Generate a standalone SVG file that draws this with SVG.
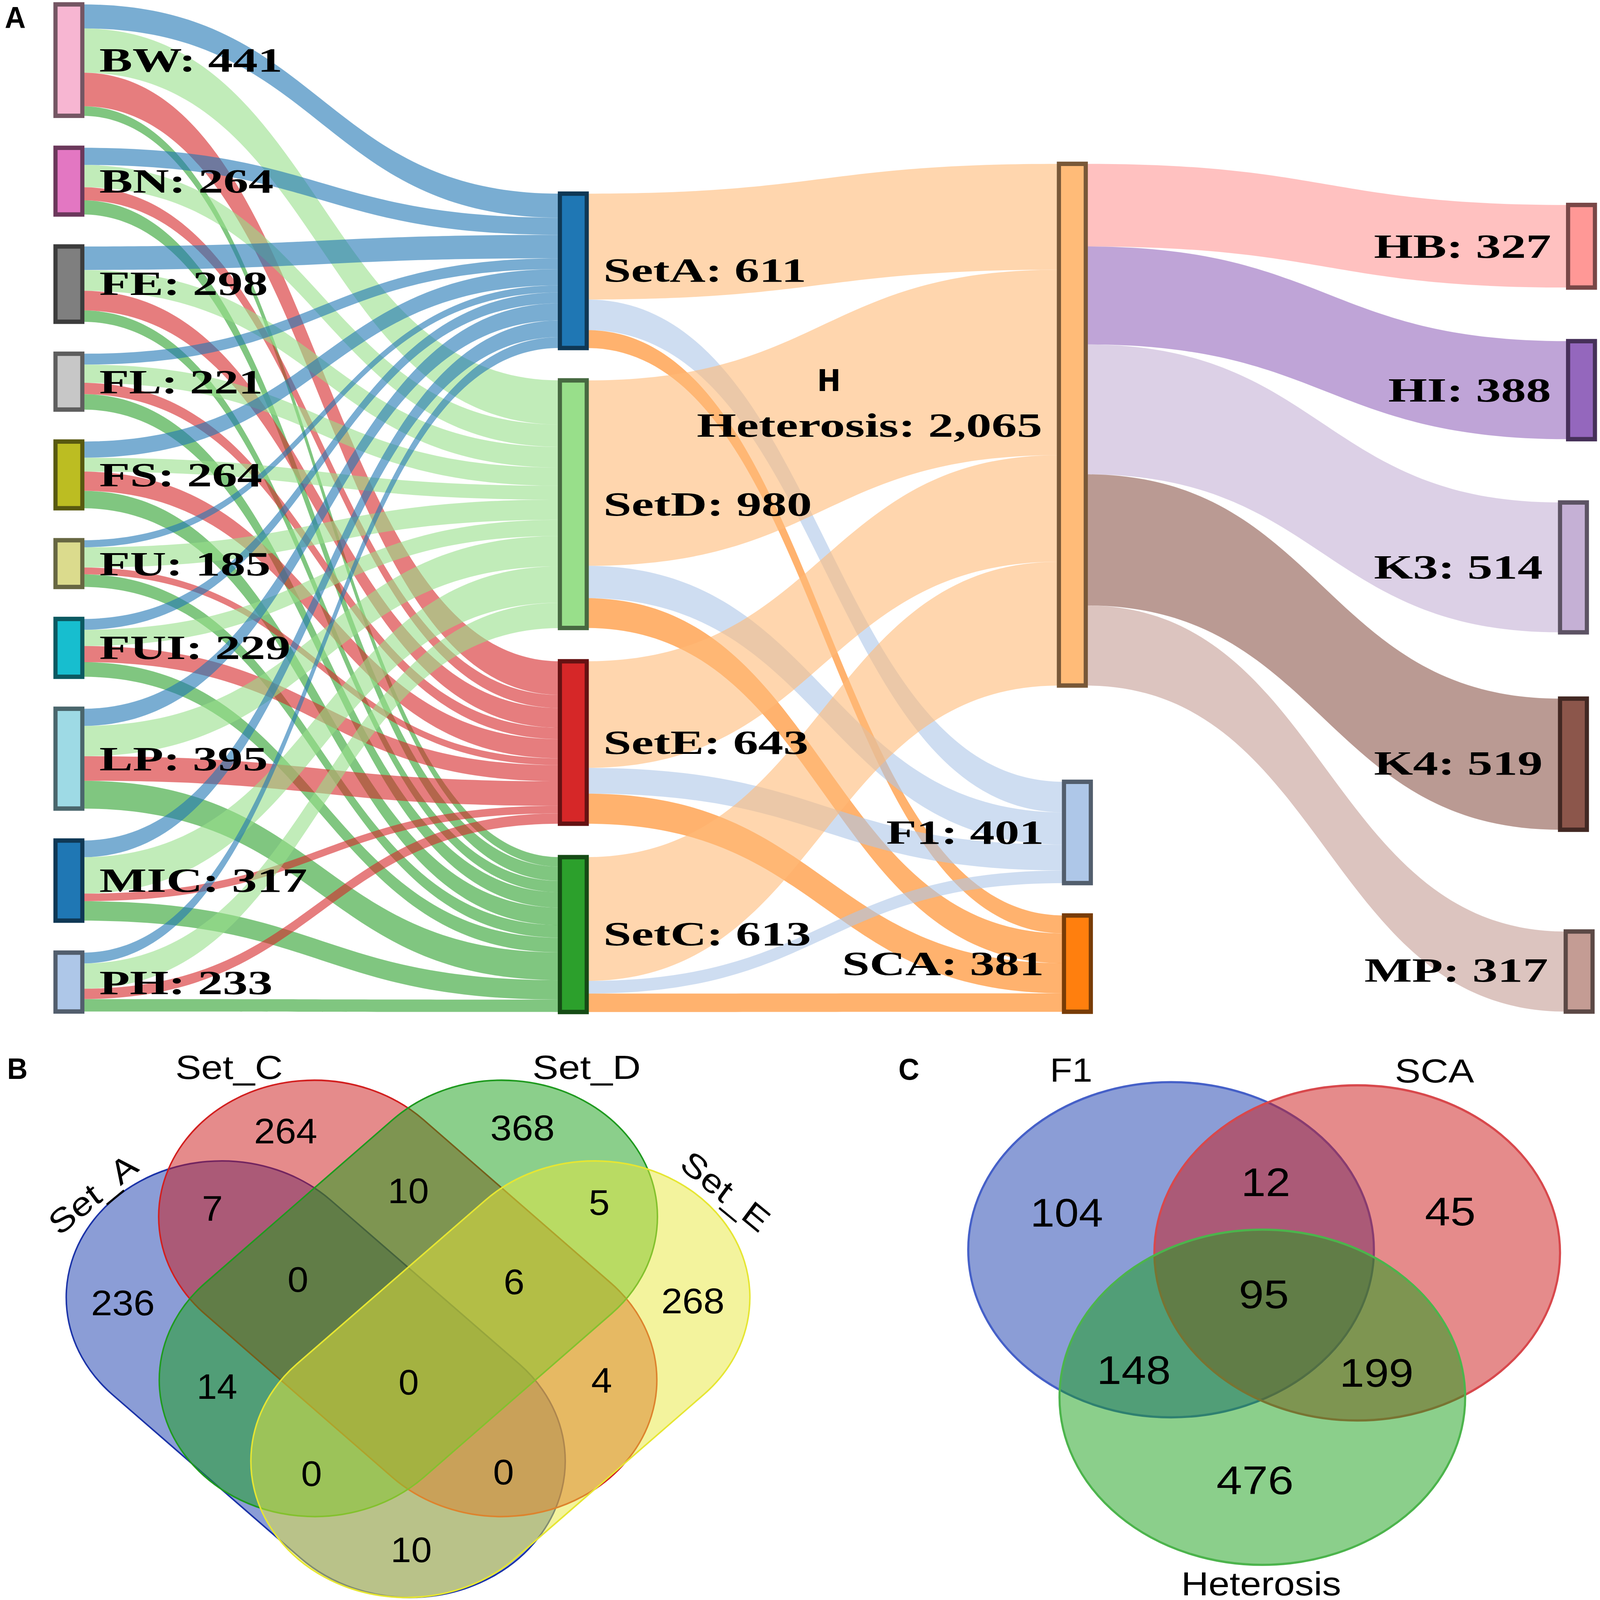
<svg xmlns="http://www.w3.org/2000/svg" width="5364" height="5098" viewBox="0 0 5364 5098" preserveAspectRatio="none">
<style>
svg:root{width:100vw;height:100vh}
.lk{fill-opacity:0.6;stroke:none}
.tA{fill:#1f77b4}.tD{fill:#98df8a}.tE{fill:#d62728}.tC{fill:#2ca02c}
.tH{fill:#ffbb78}.tF{fill:#aec7e8}.tS{fill:#ff7f0e}
.tHB{fill:#ff9896}.tHI{fill:#9467bd}.tK3{fill:#c5b0d5}.tK4{fill:#8c564b}.tMP{fill:#c49c94}
.nd{stroke-width:14}
.nl{font-family:"Liberation Serif","Times New Roman",serif;font-weight:bold;font-size:108px;fill:#000}
.pl{font-family:"Liberation Sans",Arial,sans-serif;font-weight:bold;fill:#000}
.vt{font-family:"Liberation Sans",Arial,sans-serif;fill:#000;text-anchor:middle}
.vb{font-size:112px}
.vc{font-size:128px}
.vs{font-family:"Liberation Sans",Arial,sans-serif;fill:#000;font-size:106px}
.vshape{fill-opacity:0.5;stroke-width:5}
</style>
<rect width="5364" height="5098" fill="#ffffff"/>
<g id="panel-A">
<text class="pl" x="16" y="90" font-size="97">A</text>
<g id="connectors">
<path class="lk tA" d="M276,14 C1076.5,14 1076.5,617 1877,617 L1877,693.5 C1076.5,693.5 1076.5,90.5 276,90.5Z"/>
<path class="lk tD" d="M276,90.5 C1076.5,90.5 1076.5,1212 1877,1212 L1877,1352.9 C1076.5,1352.9 1076.5,231.4 276,231.4Z"/>
<path class="lk tE" d="M276,231.4 C1076.5,231.4 1076.5,2107 1877,2107 L1877,2214.1 C1076.5,2214.1 1076.5,338.4 276,338.4Z"/>
<path class="lk tC" d="M276,338.4 C1076.5,338.4 1076.5,2731 1877,2731 L1877,2761.6 C1076.5,2761.6 1076.5,369 276,369Z"/>
<path class="lk tA" d="M276,470.9 C1076.5,470.9 1076.5,693.5 1877,693.5 L1877,748.2 C1076.5,748.2 1076.5,525.6 276,525.6Z"/>
<path class="lk tD" d="M276,525.6 C1076.5,525.6 1076.5,1352.9 1877,1352.9 L1877,1423.7 C1076.5,1423.7 1076.5,596.5 276,596.5Z"/>
<path class="lk tE" d="M276,596.5 C1076.5,596.5 1076.5,2214.1 1877,2214.1 L1877,2256 C1076.5,2256 1076.5,638.3 276,638.3Z"/>
<path class="lk tC" d="M276,638.3 C1076.5,638.3 1076.5,2761.6 1877,2761.6 L1877,2806.7 C1076.5,2806.7 1076.5,683.4 276,683.4Z"/>
<path class="lk tA" d="M276,785.3 C1076.5,785.3 1076.5,748.2 1877,748.2 L1877,823.1 C1076.5,823.1 1076.5,860.2 276,860.2Z"/>
<path class="lk tD" d="M276,860.2 C1076.5,860.2 1076.5,1423.7 1877,1423.7 L1877,1489.7 C1076.5,1489.7 1076.5,926.2 276,926.2Z"/>
<path class="lk tE" d="M276,926.2 C1076.5,926.2 1076.5,2256 1877,2256 L1877,2318.8 C1076.5,2318.8 1076.5,989 276,989Z"/>
<path class="lk tC" d="M276,989 C1076.5,989 1076.5,2806.7 1877,2806.7 L1877,2842.9 C1076.5,2842.9 1076.5,1025.2 276,1025.2Z"/>
<path class="lk tA" d="M276,1127.1 C1076.5,1127.1 1076.5,823.1 1877,823.1 L1877,857.7 C1076.5,857.7 1076.5,1161.7 276,1161.7Z"/>
<path class="lk tD" d="M276,1161.7 C1076.5,1161.7 1076.5,1489.7 1877,1489.7 L1877,1547.7 C1076.5,1547.7 1076.5,1219.7 276,1219.7Z"/>
<path class="lk tE" d="M276,1219.7 C1076.5,1219.7 1076.5,2318.8 1877,2318.8 L1877,2355 C1076.5,2355 1076.5,1255.9 276,1255.9Z"/>
<path class="lk tC" d="M276,1255.9 C1076.5,1255.9 1076.5,2842.9 1877,2842.9 L1877,2892 C1076.5,2892 1076.5,1305 276,1305Z"/>
<path class="lk tA" d="M276,1406.9 C1076.5,1406.9 1076.5,857.7 1877,857.7 L1877,909.2 C1076.5,909.2 1076.5,1458.4 276,1458.4Z"/>
<path class="lk tD" d="M276,1458.4 C1076.5,1458.4 1076.5,1547.7 1877,1547.7 L1877,1592 C1076.5,1592 1076.5,1502.7 276,1502.7Z"/>
<path class="lk tE" d="M276,1502.7 C1076.5,1502.7 1076.5,2355 1877,2355 L1877,2416.2 C1076.5,2416.2 1076.5,1563.9 276,1563.9Z"/>
<path class="lk tC" d="M276,1563.9 C1076.5,1563.9 1076.5,2892 1877,2892 L1877,2947.5 C1076.5,2947.5 1076.5,1619.4 276,1619.4Z"/>
<path class="lk tA" d="M276,1721.3 C1076.5,1721.3 1076.5,909.2 1877,909.2 L1877,931.7 C1076.5,931.7 1076.5,1743.8 276,1743.8Z"/>
<path class="lk tD" d="M276,1743.8 C1076.5,1743.8 1076.5,1592 1877,1592 L1877,1656.4 C1076.5,1656.4 1076.5,1808.2 276,1808.2Z"/>
<path class="lk tE" d="M276,1808.2 C1076.5,1808.2 1076.5,2416.2 1877,2416.2 L1877,2437.9 C1076.5,2437.9 1076.5,1829.9 276,1829.9Z"/>
<path class="lk tC" d="M276,1829.9 C1076.5,1829.9 1076.5,2947.5 1877,2947.5 L1877,2987.8 C1076.5,2987.8 1076.5,1870.2 276,1870.2Z"/>
<path class="lk tA" d="M276,1972.1 C1076.5,1972.1 1076.5,931.7 1877,931.7 L1877,966.3 C1076.5,966.3 1076.5,2006.7 276,2006.7Z"/>
<path class="lk tD" d="M276,2006.7 C1076.5,2006.7 1076.5,1656.4 1877,1656.4 L1877,1707.9 C1076.5,1707.9 1076.5,2058.2 276,2058.2Z"/>
<path class="lk tE" d="M276,2058.2 C1076.5,2058.2 1076.5,2437.9 1877,2437.9 L1877,2489.4 C1076.5,2489.4 1076.5,2109.7 276,2109.7Z"/>
<path class="lk tC" d="M276,2109.7 C1076.5,2109.7 1076.5,2987.8 1877,2987.8 L1877,3034.5 C1076.5,3034.5 1076.5,2156.4 276,2156.4Z"/>
<path class="lk tA" d="M276,2258.3 C1076.5,2258.3 1076.5,966.3 1877,966.3 L1877,1021 C1076.5,1021 1076.5,2313 276,2313Z"/>
<path class="lk tD" d="M276,2313 C1076.5,2313 1076.5,1707.9 1877,1707.9 L1877,1804.5 C1076.5,1804.5 1076.5,2409.6 276,2409.6Z"/>
<path class="lk tE" d="M276,2409.6 C1076.5,2409.6 1076.5,2489.4 1877,2489.4 L1877,2567.5 C1076.5,2567.5 1076.5,2487.7 276,2487.7Z"/>
<path class="lk tC" d="M276,2487.7 C1076.5,2487.7 1076.5,3034.5 1877,3034.5 L1877,3123 C1076.5,3123 1076.5,2576.3 276,2576.3Z"/>
<path class="lk tA" d="M276,2678.2 C1076.5,2678.2 1076.5,1021 1877,1021 L1877,1074.1 C1076.5,1074.1 1076.5,2731.3 276,2731.3Z"/>
<path class="lk tD" d="M276,2731.3 C1076.5,2731.3 1076.5,1804.5 1877,1804.5 L1877,1920.4 C1076.5,1920.4 1076.5,2847.2 276,2847.2Z"/>
<path class="lk tE" d="M276,2847.2 C1076.5,2847.2 1076.5,2567.5 1877,2567.5 L1877,2591.7 C1076.5,2591.7 1076.5,2871.4 276,2871.4Z"/>
<path class="lk tC" d="M276,2871.4 C1076.5,2871.4 1076.5,3123 1877,3123 L1877,3185 C1076.5,3185 1076.5,2933.4 276,2933.4Z"/>
<path class="lk tA" d="M276,3035.3 C1076.5,3035.3 1076.5,1074.1 1877,1074.1 L1877,1108.7 C1076.5,1108.7 1076.5,3069.9 276,3069.9Z"/>
<path class="lk tD" d="M276,3069.9 C1076.5,3069.9 1076.5,1920.4 1877,1920.4 L1877,2000.9 C1076.5,2000.9 1076.5,3150.4 276,3150.4Z"/>
<path class="lk tE" d="M276,3150.4 C1076.5,3150.4 1076.5,2591.7 1877,2591.7 L1877,2624.7 C1076.5,2624.7 1076.5,3183.4 276,3183.4Z"/>
<path class="lk tC" d="M276,3183.4 C1076.5,3183.4 1076.5,3185 1877,3185 L1877,3224.4 C1076.5,3224.4 1076.5,3222.9 276,3222.9Z"/>
<path class="lk tH" d="M1967,617 C2758.5,617 2758.5,522 3550,522 L3550,859.3 C2758.5,859.3 2758.5,954.3 1967,954.3Z"/>
<path class="lk tF" d="M1967,954.3 C2767,954.3 2767,2491 3567,2491 L3567,2588.4 C2767,2588.4 2767,1051.7 1967,1051.7Z"/>
<path class="lk tS" d="M1967,1051.7 C2767,1051.7 2767,2917 3567,2917 L3567,2974.2 C2767,2974.2 2767,1108.9 1967,1108.9Z"/>
<path class="lk tH" d="M1967,1212 C2758.5,1212 2758.5,859.3 3550,859.3 L3550,1450.2 C2758.5,1450.2 2758.5,1802.9 1967,1802.9Z"/>
<path class="lk tF" d="M1967,1802.9 C2767,1802.9 2767,2588.4 3567,2588.4 L3567,2691.4 C2767,2691.4 2767,1905.9 1967,1905.9Z"/>
<path class="lk tS" d="M1967,1905.9 C2767,1905.9 2767,2974.2 3567,2974.2 L3567,3069.2 C2767,3069.2 2767,2000.9 1967,2000.9Z"/>
<path class="lk tH" d="M1967,2107 C2758.5,2107 2758.5,1450.2 3550,1450.2 L3550,1789.9 C2758.5,1789.9 2758.5,2446.7 1967,2446.7Z"/>
<path class="lk tF" d="M1967,2446.7 C2767,2446.7 2767,2691.4 3567,2691.4 L3567,2773.5 C2767,2773.5 2767,2528.8 1967,2528.8Z"/>
<path class="lk tS" d="M1967,2528.8 C2767,2528.8 2767,3069.2 3567,3069.2 L3567,3165 C2767,3165 2767,2624.6 1967,2624.6Z"/>
<path class="lk tH" d="M1967,2731 C2758.5,2731 2758.5,1789.9 3550,1789.9 L3550,2184.4 C2758.5,2184.4 2758.5,3125.5 1967,3125.5Z"/>
<path class="lk tF" d="M1967,3125.5 C2767,3125.5 2767,2773.5 3567,2773.5 L3567,2813.8 C2767,2813.8 2767,3165.8 1967,3165.8Z"/>
<path class="lk tS" d="M1967,3165.8 C2767,3165.8 2767,3165 3567,3165 L3567,3223.8 C2767,3223.8 2767,3224.6 1967,3224.6Z"/>
<path class="lk tHB" d="M3640,522 C4448.5,522 4448.5,653 5257,653 L5257,916.2 C4448.5,916.2 4448.5,785.2 3640,785.2Z"/>
<path class="lk tHI" d="M3640,785.2 C4448.5,785.2 4448.5,1087 5257,1087 L5257,1399.3 C4448.5,1399.3 4448.5,1097.5 3640,1097.5Z"/>
<path class="lk tK3" d="M3640,1097.5 C4435,1097.5 4435,1601 5230,1601 L5230,2014.8 C4435,2014.8 4435,1511.3 3640,1511.3Z"/>
<path class="lk tK4" d="M3640,1511.3 C4435,1511.3 4435,2226 5230,2226 L5230,2643.8 C4435,2643.8 4435,1929.1 3640,1929.1Z"/>
<path class="lk tMP" d="M3640,1929.1 C4444.5,1929.1 4444.5,2968 5249,2968 L5249,3223.2 C4444.5,3223.2 4444.5,2184.3 3640,2184.3Z"/>
</g>
<g id="node-BW"><rect class="nd" x="186" y="14" width="90" height="355" fill="#f7b6d2" stroke="#745663"/><text class="nl" x="333" y="228" textLength="614" lengthAdjust="spacingAndGlyphs">BW: 441</text></g>
<g id="node-BN"><rect class="nd" x="186" y="470.9" width="90" height="212.5" fill="#e377c2" stroke="#6b385b"/><text class="nl" x="333" y="614" textLength="584" lengthAdjust="spacingAndGlyphs">BN: 264</text></g>
<g id="node-FE"><rect class="nd" x="186" y="785.3" width="90" height="239.9" fill="#7f7f7f" stroke="#3c3c3c"/><text class="nl" x="333" y="940" textLength="565" lengthAdjust="spacingAndGlyphs">FE: 298</text></g>
<g id="node-FL"><rect class="nd" x="186" y="1127.1" width="90" height="177.9" fill="#c7c7c7" stroke="#5e5e5e"/><text class="nl" x="333" y="1253" textLength="548" lengthAdjust="spacingAndGlyphs">FL: 221</text></g>
<g id="node-FS"><rect class="nd" x="186" y="1406.9" width="90" height="212.5" fill="#bcbd22" stroke="#585910"/><text class="nl" x="333" y="1549" textLength="546" lengthAdjust="spacingAndGlyphs">FS: 264</text></g>
<g id="node-FU"><rect class="nd" x="186" y="1721.3" width="90" height="148.9" fill="#dbdb8d" stroke="#676742"/><text class="nl" x="333" y="1833" textLength="574" lengthAdjust="spacingAndGlyphs">FU: 185</text></g>
<g id="node-FUI"><rect class="nd" x="186" y="1972.1" width="90" height="184.3" fill="#17becf" stroke="#0b5961"/><text class="nl" x="333" y="2100" textLength="641" lengthAdjust="spacingAndGlyphs">FUI: 229</text></g>
<g id="node-LP"><rect class="nd" x="186" y="2258.3" width="90" height="318" fill="#9edae5" stroke="#4a666c"/><text class="nl" x="333" y="2454" textLength="565" lengthAdjust="spacingAndGlyphs">LP: 395</text></g>
<g id="node-MIC"><rect class="nd" x="186" y="2678.2" width="90" height="255.2" fill="#1f77b4" stroke="#0f3855"/><text class="nl" x="333" y="2842" textLength="697" lengthAdjust="spacingAndGlyphs">MIC: 317</text></g>
<g id="node-PH"><rect class="nd" x="186" y="3035.3" width="90" height="187.6" fill="#aec7e8" stroke="#525e6d"/><text class="nl" x="333" y="3167" textLength="581" lengthAdjust="spacingAndGlyphs">PH: 233</text></g>
<g id="node-SetA"><rect class="nd" x="1877" y="617" width="90" height="491.9" fill="#1f77b4" stroke="#0f3855"/><text class="nl" x="2023" y="898" textLength="680" lengthAdjust="spacingAndGlyphs">SetA: 611</text></g>
<g id="node-SetD"><rect class="nd" x="1877" y="1212" width="90" height="788.9" fill="#98df8a" stroke="#476941"/><text class="nl" x="2023" y="1643" textLength="699" lengthAdjust="spacingAndGlyphs">SetD: 980</text></g>
<g id="node-SetE"><rect class="nd" x="1877" y="2107" width="90" height="517.6" fill="#d62728" stroke="#651213"/><text class="nl" x="2023" y="2402" textLength="687" lengthAdjust="spacingAndGlyphs">SetE: 643</text></g>
<g id="node-SetC"><rect class="nd" x="1877" y="2731" width="90" height="493.5" fill="#2ca02c" stroke="#154b15"/><text class="nl" x="2023" y="3012" textLength="696" lengthAdjust="spacingAndGlyphs">SetC: 613</text></g>
<g id="node-Heterosis"><rect class="nd" x="3550" y="522" width="90" height="1662.3" fill="#ffbb78" stroke="#785838"/><text x="2779" y="1246" font-family="DejaVu Sans,sans-serif" font-weight="bold" font-size="95" text-anchor="middle" fill="#000">H</text><text class="nl" x="2336" y="1391" textLength="1158" lengthAdjust="spacingAndGlyphs">Heterosis: 2,065</text></g>
<g id="node-F1"><rect class="nd" x="3567" y="2491" width="90" height="322.8" fill="#aec7e8" stroke="#525e6d"/><text class="nl" x="2971" y="2688" textLength="529" lengthAdjust="spacingAndGlyphs">F1: 401</text></g>
<g id="node-SCA"><rect class="nd" x="3567" y="2917" width="90" height="306.7" fill="#ff7f0e" stroke="#783c07"/><text class="nl" x="2823" y="3107" textLength="677" lengthAdjust="spacingAndGlyphs">SCA: 381</text></g>
<g id="node-HB"><rect class="nd" x="5257" y="653" width="90" height="263.2" fill="#ff9896" stroke="#784747"/><text class="nl" x="4606" y="822" textLength="594" lengthAdjust="spacingAndGlyphs">HB: 327</text></g>
<g id="node-HI"><rect class="nd" x="5257" y="1087" width="90" height="312.3" fill="#9467bd" stroke="#463059"/><text class="nl" x="4654" y="1279" textLength="546" lengthAdjust="spacingAndGlyphs">HI: 388</text></g>
<g id="node-K3"><rect class="nd" x="5230" y="1601" width="90" height="413.8" fill="#c5b0d5" stroke="#5d5364"/><text class="nl" x="4606" y="1843" textLength="566" lengthAdjust="spacingAndGlyphs">K3: 514</text></g>
<g id="node-K4"><rect class="nd" x="5230" y="2226" width="90" height="417.8" fill="#8c564b" stroke="#422823"/><text class="nl" x="4606" y="2468" textLength="566" lengthAdjust="spacingAndGlyphs">K4: 519</text></g>
<g id="node-MP"><rect class="nd" x="5249" y="2968" width="90" height="255.2" fill="#c49c94" stroke="#5c4946"/><text class="nl" x="4574" y="3128" textLength="616" lengthAdjust="spacingAndGlyphs">MP: 317</text></g>
</g>
<g id="panel-B">
<text class="pl" x="24" y="3438" font-size="95">B</text>
<g id="set-A"><path class="vshape" fill="rgb(23,59,173)" stroke="#1b33a8" d="M376.7,4443.3 A521,435 0 0 1 314.1,3887.1 A521,435 0 0 1 1109.3,3824.7 L1740.3,4345.7 A521,435 0 0 1 1802.9,4901.9 A521,435 0 0 1 1007.7,4964.3 Z"/></g>
<g id="set-C"><path class="vshape" fill="rgb(203,23,23)" stroke="#d21f1f" d="M686.1,4185.9 A521,435 0 0 1 624.4,3629.6 A521,435 0 0 1 1419.9,3568.1 L2047.9,4088.1 A521,435 0 0 1 2109.6,4644.4 A521,435 0 0 1 1314.1,4705.9 Z"/></g>
<g id="set-D"><path class="vshape" fill="rgb(23,159,23)" stroke="#1f9a1f" d="M2049.9,4185.9 A521,435 0 0 0 2111.6,3629.6 A521,435 0 0 0 1316.1,3568.1 L688.1,4088.1 A521,435 0 0 0 626.4,4644.4 A521,435 0 0 0 1421.9,4705.9 Z"/></g>
<g id="set-E"><path class="vshape" fill="rgb(231,231,59)" stroke="#e6e632" d="M2359.3,4443.3 A521,435 0 0 0 2421.9,3887.1 A521,435 0 0 0 1626.7,3824.7 L995.7,4345.7 A521,435 0 0 0 933.1,4901.9 A521,435 0 0 0 1728.3,4964.3 Z"/></g>
<text class="vs" x="588" y="3438" textLength="360" lengthAdjust="spacingAndGlyphs">Set_C</text>
<text class="vs" x="1785" y="3438" textLength="363" lengthAdjust="spacingAndGlyphs">Set_D</text>
<text class="vs" transform="translate(311,3804) rotate(-38)" x="0" y="38" text-anchor="middle" textLength="345" lengthAdjust="spacingAndGlyphs">Set_A</text>
<text class="vs" transform="translate(2433,3795) rotate(38)" x="0" y="38" text-anchor="middle" textLength="345" lengthAdjust="spacingAndGlyphs">Set_E</text>
<text class="vt vb" x="957.5" y="3643" textLength="212" lengthAdjust="spacingAndGlyphs">264</text>
<text class="vt vb" x="1751.5" y="3633" textLength="216" lengthAdjust="spacingAndGlyphs">368</text>
<text class="vt vb" x="712" y="3889" textLength="70" lengthAdjust="spacingAndGlyphs">7</text>
<text class="vt vb" x="1369" y="3833" textLength="138" lengthAdjust="spacingAndGlyphs">10</text>
<text class="vt vb" x="2009" y="3871" textLength="70" lengthAdjust="spacingAndGlyphs">5</text>
<text class="vt vb" x="412" y="4191" textLength="214" lengthAdjust="spacingAndGlyphs">236</text>
<text class="vt vb" x="999" y="4116" textLength="70" lengthAdjust="spacingAndGlyphs">0</text>
<text class="vt vb" x="1723.5" y="4124" textLength="70" lengthAdjust="spacingAndGlyphs">6</text>
<text class="vt vb" x="2323" y="4184" textLength="212" lengthAdjust="spacingAndGlyphs">268</text>
<text class="vt vb" x="727.5" y="4457" textLength="136" lengthAdjust="spacingAndGlyphs">14</text>
<text class="vt vb" x="1370" y="4443" textLength="68" lengthAdjust="spacingAndGlyphs">0</text>
<text class="vt vb" x="2017" y="4437" textLength="70" lengthAdjust="spacingAndGlyphs">4</text>
<text class="vt vb" x="1044.5" y="4735" textLength="70" lengthAdjust="spacingAndGlyphs">0</text>
<text class="vt vb" x="1688" y="4729" textLength="70" lengthAdjust="spacingAndGlyphs">0</text>
<text class="vt vb" x="1378.5" y="4977" textLength="138" lengthAdjust="spacingAndGlyphs">10</text>
</g>
<g id="panel-C">
<text class="pl" x="3012" y="3440" font-size="97">C</text>
<g id="set-F1"><ellipse cx="3926" cy="3982" rx="680" ry="534" fill="rgb(23,59,173)" fill-opacity="0.5" stroke="#4560c8" stroke-width="7"/></g>
<g id="set-SCA"><ellipse cx="4550" cy="3992" rx="680" ry="534" fill="rgb(203,23,23)" fill-opacity="0.5" stroke="#d8484c" stroke-width="7"/></g>
<g id="set-Heterosis"><ellipse cx="4232" cy="4452" rx="680" ry="534" fill="rgb(23,159,23)" fill-opacity="0.5" stroke="#4cb44c" stroke-width="7"/></g>
<text class="vs" x="3520" y="3447" font-size="110" textLength="142" lengthAdjust="spacingAndGlyphs">F1</text>
<text class="vs" x="4676" y="3449" font-size="110" textLength="266" lengthAdjust="spacingAndGlyphs">SCA</text>
<text class="vs" x="3960" y="5083" font-size="110" textLength="536" lengthAdjust="spacingAndGlyphs">Heterosis</text>
<text class="vt vc" x="3576" y="3908" textLength="244" lengthAdjust="spacingAndGlyphs">104</text>
<text class="vt vc" x="4243.5" y="3811" textLength="165" lengthAdjust="spacingAndGlyphs">12</text>
<text class="vt vc" x="4862" y="3905" textLength="170" lengthAdjust="spacingAndGlyphs">45</text>
<text class="vt vc" x="4237" y="4168" textLength="168" lengthAdjust="spacingAndGlyphs">95</text>
<text class="vt vc" x="3801" y="4410" textLength="248" lengthAdjust="spacingAndGlyphs">148</text>
<text class="vt vc" x="4615" y="4419" textLength="248" lengthAdjust="spacingAndGlyphs">199</text>
<text class="vt vc" x="4207.5" y="4761" textLength="259" lengthAdjust="spacingAndGlyphs">476</text>
</g>
</svg>
